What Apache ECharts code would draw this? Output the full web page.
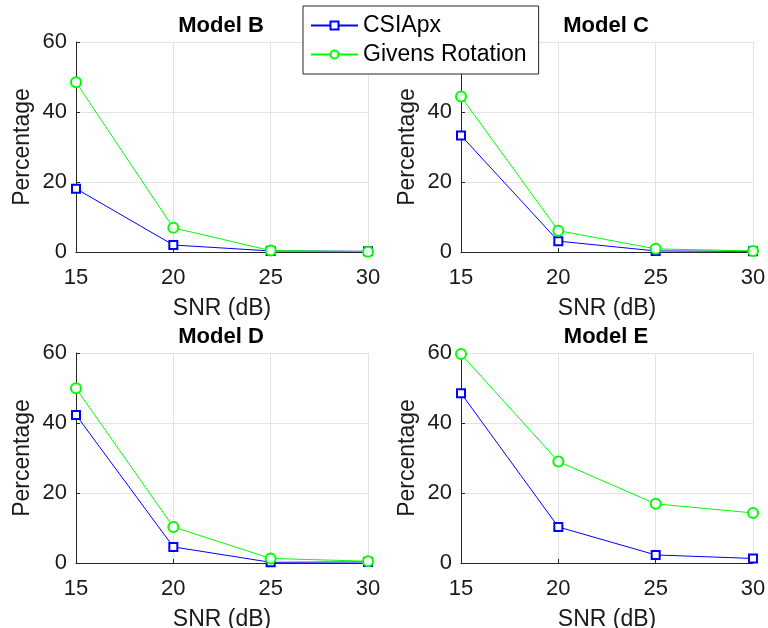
<!DOCTYPE html>
<html>
<head>
<meta charset="utf-8">
<script src="https://cdn.jsdelivr.net/npm/echarts@6/dist/echarts.min.js"></script>
<style>
  html, body { margin: 0; padding: 0; background: #fff; }
  #chart { width: 768px; height: 628px; }
</style>
</head>
<body>
<div id="chart"></div>
<script>
// SNR sweep (dB) shared by all four panels
const snr = [15, 20, 25, 30];
const yTicks = [0, 20, 40, 60];

// Percentage per model
const modelNames = ['Model B', 'Model C', 'Model D', 'Model E'];
const csiB = [18.1, 2.0, 0.3, 0.2];
const givB = [48.5, 6.9, 0.4, 0.1];
const csiC = [33.3, 3.1, 0.3, 0.2];
const givC = [44.4, 6.1, 0.9, 0.3];
const csiD = [42.3, 4.6, 0.2, 0.3];
const givD = [49.9, 10.3, 1.3, 0.5];
const csiE = [48.5, 10.3, 2.3, 1.3];
const givE = [59.7, 29.0, 16.9, 14.3];

const csiAll = [csiB, csiC, csiD, csiE];
const givAll = [givB, givC, givD, givE];

const FONT = 'Liberation Sans, Arial, Helvetica, sans-serif';
const TXT = '#1a1a1a';
const GRIDC = '#e3e3e3';

// 2x2 panel layout
const panels = [
  { left: 76, top: 42 },
  { left: 461, top: 42 },
  { left: 76, top: 353 },
  { left: 461, top: 353 }
];
const PW = 292, PH = 210;

const grids = [], xAxes = [], yAxes = [], titles = [], series = [];

panels.forEach((p, i) => {
  grids.push({ left: p.left, top: p.top, width: PW, height: PH, outerBoundsMode: 'none' });
  titles.push({
    text: modelNames[i],
    left: p.left + PW / 2 - 1,
    top: p.top - 27,
    textAlign: 'center',
    padding: 0,
    textStyle: { fontFamily: FONT, fontSize: 22, fontWeight: 'bold', color: '#000' }
  });
  xAxes.push({
    gridIndex: i, type: 'value', min: snr[0], max: snr[snr.length - 1], interval: 5,
    name: 'SNR (dB)', nameLocation: 'middle', nameGap: 45,
    nameTextStyle: { fontFamily: FONT, fontSize: 23, color: TXT },
    axisLine: { show: true, onZero: false, lineStyle: { color: '#262626', width: 1 } },
    axisTick: { show: true, inside: true, length: 4, lineStyle: { color: '#262626' } },
    axisLabel: { fontFamily: FONT, fontSize: 22, color: TXT, margin: 15 },
    splitLine: { show: true, lineStyle: { color: GRIDC, width: 1 } }
  });
  yAxes.push({
    gridIndex: i, type: 'value', min: yTicks[0], max: yTicks[yTicks.length - 1], interval: 20,
    name: 'Percentage', nameLocation: 'middle', nameGap: 42, nameRotate: 90,
    nameTextStyle: { fontFamily: FONT, fontSize: 23, color: TXT },
    axisLine: { show: true, onZero: false, lineStyle: { color: '#262626', width: 1 } },
    axisTick: { show: true, inside: true, length: 4, lineStyle: { color: '#262626' } },
    axisLabel: { fontFamily: FONT, fontSize: 22, color: TXT, margin: 9 },
    splitLine: { show: true, lineStyle: { color: GRIDC, width: 1 } }
  });
  series.push({
    name: 'CSIApx', type: 'line', xAxisIndex: i, yAxisIndex: i,
    data: snr.map((s, k) => [s, csiAll[i][k]]),
    symbol: 'emptyRect', symbolSize: 8,
    lineStyle: { color: '#0000ff', width: 1 },
    itemStyle: { color: '#0000ff', borderColor: '#0000ff', borderWidth: 1.3 },
    z: 3
  });
  series.push({
    name: 'Givens Rotation', type: 'line', xAxisIndex: i, yAxisIndex: i,
    data: snr.map((s, k) => [s, givAll[i][k]]),
    symbol: 'emptyCircle', symbolSize: 10,
    lineStyle: { color: '#00ff00', width: 1 },
    itemStyle: { color: '#00ff00', borderColor: '#00ff00', borderWidth: 1.3 },
    z: 4
  });
});

const chart = echarts.init(document.getElementById('chart'), null, { renderer: 'canvas' });
chart.setOption({
  animation: false,
  backgroundColor: '#fff',
  title: titles,
  legend: {
    data: ['CSIApx', 'Givens Rotation'],
    orient: 'vertical',
    left: 303, top: 6,
    padding: [8, 12, 8, 7],
    itemWidth: 47, itemHeight: 10, itemGap: 6,
    backgroundColor: '#fff',
    borderColor: '#262626', borderWidth: 1,
    textStyle: { fontFamily: FONT, fontSize: 23, color: '#000', lineHeight: 22 },
    z: 10
  },
  grid: grids,
  xAxis: xAxes,
  yAxis: yAxes,
  series: series
});
</script>
</body>
</html>
